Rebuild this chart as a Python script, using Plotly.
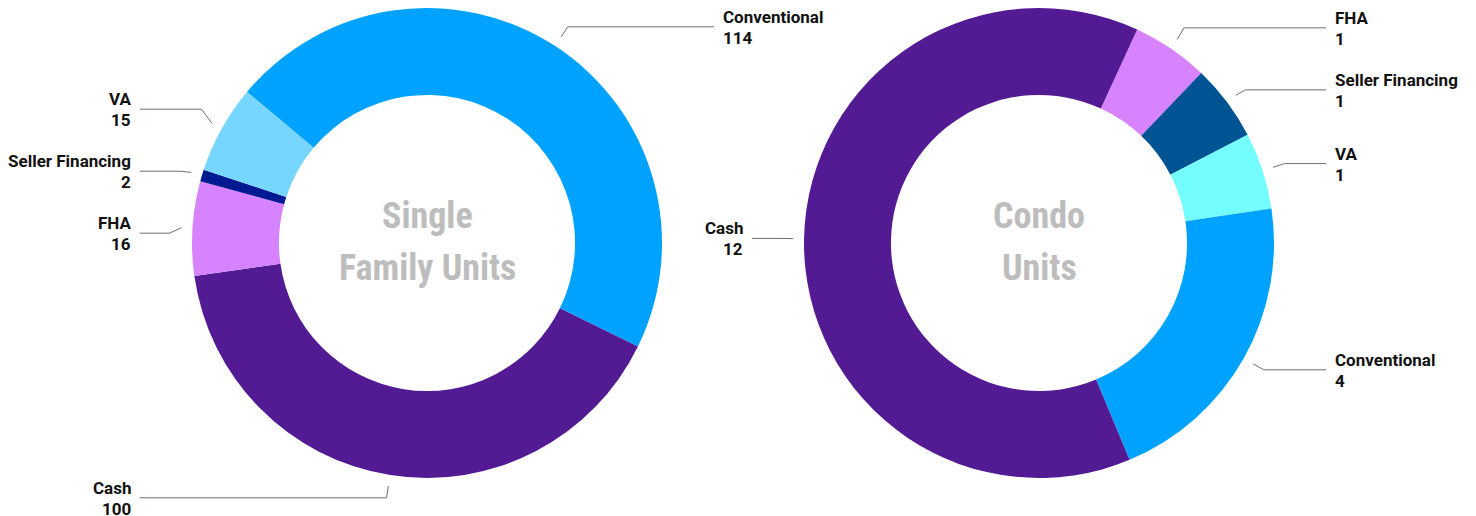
import math
import plotly.graph_objects as go

# ---- data ----
sf_labels = ["Conventional", "Cash", "FHA", "Seller Financing", "VA"]
sf_values = [114, 100, 16, 2, 15]
sf_colors = ["#00A2FF", "#531B93", "#D783FF", "#011993", "#76D6FF"]

condo_labels = ["FHA", "Seller Financing", "VA", "Conventional", "Cash"]
condo_values = [1, 1, 1, 4, 12]
condo_colors = ["#D783FF", "#005493", "#73FDFF", "#00A2FF", "#531B93"]

titles = [["Single", "Family Units"], ["Condo", "Units"]]

# ---- layout geometry (page pixels) ----
W, H = 1476, 516
R = 235
CY = 243
CXS = [427, 1039]
ROTS = [-50, 24.7]
HOLE = 0.63
TITLE_FONT = "Roboto Condensed, Noto Sans Condensed, Open Sans Condensed, DejaVu Sans Condensed"


def px(x):
    return x / W


def py(y):
    return 1 - y / H


fig = go.Figure()
annotations = []
shapes = []

charts = [
    (sf_labels, sf_values, sf_colors),
    (condo_labels, condo_values, condo_colors),
]

for i, (labs, vals, cols) in enumerate(charts):
    cx = CXS[i]
    fig.add_trace(go.Pie(
        labels=labs, values=vals,
        marker=dict(colors=cols, line=dict(width=0)),
        hole=HOLE, sort=False, direction="clockwise", rotation=ROTS[i],
        textinfo="none", showlegend=False,
        domain=dict(x=[px(cx - R), px(cx + R)], y=[py(CY + R), py(CY - R)]),
    ))
    for k, line in enumerate(titles[i]):
        annotations.append(dict(
            x=px(cx), y=py(CY - 27 + 52 * k), xref="paper", yref="paper", showarrow=False,
            text="<b>%s</b>" % line, xanchor="center", yanchor="middle", align="center",
            font=dict(family=TITLE_FONT, size=36, color="#BDBDBD"),
        ))

    total = sum(vals)
    cum = ROTS[i]
    items = []
    for lab, v in zip(labs, vals):
        span = v / total * 360
        mid = math.radians(cum + span / 2)
        cum += span
        s, c = math.sin(mid), math.cos(mid)
        start = (cx + (R + 11) * s, CY - (R + 11) * c)
        elbow = (cx + (R + 23) * s, CY - (R + 23) * c)
        side = 1 if s >= 0 else -1
        items.append(dict(lab=lab, v=v, start=start, ex=elbow[0], y=elbow[1], side=side))

    # spread labels on each side so they don't overlap
    for side in (1, -1):
        grp = sorted([it for it in items if it["side"] == side], key=lambda d: d["y"])
        gap = 62
        for _ in range(300):
            moved = False
            for a, b in zip(grp, grp[1:]):
                d = b["y"] - a["y"]
                if d < gap - 0.01:
                    push = (gap - d) / 2
                    a["y"] -= push
                    b["y"] += push
                    moved = True
            if not moved:
                break

    for it in items:
        side = it["side"]
        lx = cx + 294 * side
        lend = lx - 7 * side
        sx, sy = it["start"]
        path = "M %f,%f L %f,%f L %f,%f" % (px(sx), py(sy), px(it["ex"]), py(it["y"]),
                                            px(lend), py(it["y"]))
        shapes.append(dict(type="path", path=path, xref="paper", yref="paper",
                           line=dict(color="#6E6E6E", width=1)))
        anchor = "left" if side == 1 else "right"
        annotations.append(dict(
            x=px(lx), y=py(it["y"] - 10), xref="paper", yref="paper", showarrow=False,
            text="<b>%s</b>" % it["lab"], xanchor=anchor, yanchor="middle", align=anchor,
            font=dict(family="Roboto", size=17, color="#111111"),
        ))
        annotations.append(dict(
            x=px(lx), y=py(it["y"] + 11), xref="paper", yref="paper", showarrow=False,
            text="<b>%d</b>" % it["v"], xanchor=anchor, yanchor="middle", align=anchor,
            font=dict(family="Roboto", size=17, color="#111111"),
        ))

fig.update_layout(
    width=W, height=H,
    margin=dict(l=0, r=0, t=0, b=0),
    paper_bgcolor="white", plot_bgcolor="white",
    annotations=annotations, shapes=shapes,
)

fig.write_html(
    "out.html",
    config={"displayModeBar": False},
    post_script="document.body.style.margin='0';document.body.style.overflow='hidden';",
)
